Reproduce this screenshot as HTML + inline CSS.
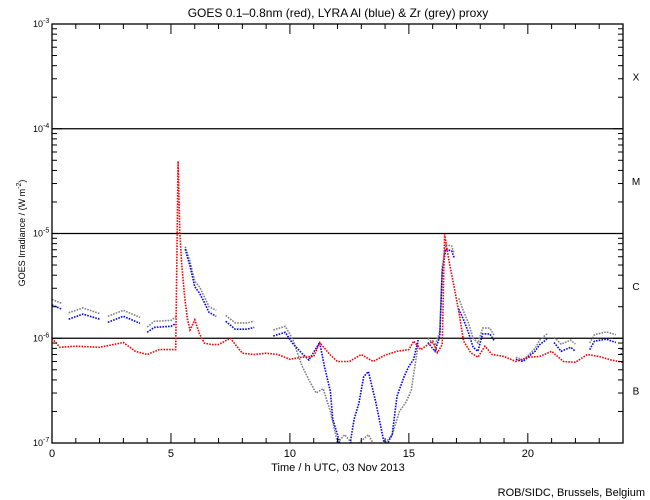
<!DOCTYPE html>
<html><head><meta charset="utf-8"><style>
html,body{margin:0;padding:0;background:#fff;}
svg{display:block;font-family:"Liberation Sans",sans-serif;}
</style></head><body>
<svg id="chart" width="650" height="500" viewBox="0 0 650 500">
<defs><clipPath id="pc"><rect x="52" y="24" width="571" height="419"/></clipPath></defs>
<text x="338" y="17" font-size="12" text-anchor="middle">GOES 0.1–0.8nm (red), LYRA Al (blue) &amp; Zr (grey) proxy</text>
<text x="338" y="471" font-size="11" text-anchor="middle">Time / h UTC, 03 Nov 2013</text>
<text x="645" y="496" font-size="11" text-anchor="end">ROB/SIDC, Brussels, Belgium</text>
<text transform="translate(25,233) rotate(-90)" font-size="9" text-anchor="middle">GOES Irradiance / (W m<tspan dy="-4" font-size="7">-2</tspan><tspan dy="4">)</tspan></text>
<g id="grid"></g>
<g id="series" clip-path="url(#pc)"></g>
<g id="axes"></g>
</svg>
<script>
// time in hours; values in units of 1e-6 W/m^2; null = gap
const redT = [0,0.33,1,2,3,3.5,4,4.5,5.2,5.3,5.37,5.45,5.58,5.7,5.8,6.0,6.2,6.4,6.7,7,7.5,8,8.5,9,9.5,10,10.5,11,11.25,11.7,12,12.5,13,13.5,14,14.5,15,15.2,15.5,16,16.2,16.4,16.5,16.7,16.9,17.1,17.3,17.6,17.9,18.2,18.5,19,19.5,20,20.5,21,21.5,22,22.5,23,23.5,24];
const redV = [1.0,0.82,0.84,0.82,0.91,0.75,0.70,0.78,0.78,49,10.3,5.1,2.4,1.5,1.2,1.5,1.1,0.9,0.87,0.87,1.0,0.72,0.70,0.72,0.70,0.63,0.66,0.67,0.91,0.69,0.60,0.60,0.70,0.60,0.69,0.75,0.78,0.94,0.78,0.94,0.73,0.87,9.8,5.3,3.1,1.8,0.94,0.73,0.66,0.84,0.70,0.67,0.60,0.66,0.67,0.75,0.60,0.59,0.70,0.67,0.62,0.59];
const blueT = [0,0.4,0.5,0.7,1.3,2.0,2.2,2.35,3.0,3.7,3.85,4.0,4.3,5.0,5.2,5.4,5.6,5.8,6.0,6.2,6.4,6.6,6.9,7.1,7.3,7.7,8.2,8.5,8.9,9.3,9.8,10.1,10.5,10.8,11.25,11.45,11.7,11.8,12.0,12.2,12.5,12.7,12.9,13.1,13.3,13.6,14.0,14.3,14.5,14.8,15.0,15.2,15.4,15.6,15.8,16.1,16.3,16.4,16.55,16.8,16.9,17.0,17.1,17.3,17.5,17.7,17.9,18.1,18.4,18.6,19.0,19.5,19.8,20.0,20.3,20.5,20.8,20.95,21.1,21.4,21.8,22.0,22.3,22.6,22.8,23.3,23.7,23.8,23.9,24];
const blueV = [2.08,1.9,null,1.52,1.7,1.52,null,1.42,1.62,1.39,null,1.14,1.27,1.3,1.38,null,7.1,4.9,3.1,2.7,2.2,1.77,1.62,null,1.45,1.22,1.22,1.27,null,1.05,1.14,0.9,0.72,0.62,0.91,0.54,0.31,0.17,0.12,0.08,0.09,0.17,0.24,0.43,0.48,0.25,0.09,0.12,0.28,0.43,0.54,0.63,0.98,null,0.91,0.75,1.05,4.3,7.1,6.8,5.9,null,1.9,1.5,1.14,0.82,0.75,1.1,1.1,0.94,null,0.63,0.6,0.66,0.75,0.87,0.98,null,0.91,0.75,0.82,0.75,null,0.78,0.94,0.98,0.91,null,0.70,0.72];
const greyT = [0,0.4,0.5,0.7,1.3,2.0,2.2,2.35,3.0,3.7,3.85,4.0,4.3,5.0,5.2,5.4,5.6,5.8,6.0,6.2,6.4,6.6,6.9,7.1,7.3,7.7,8.2,8.5,8.9,9.3,9.8,10.1,10.5,10.8,11.1,11.4,11.7,12.0,12.3,12.6,12.9,13.3,13.6,14.0,14.3,14.6,14.9,15.1,15.4,15.6,15.8,16.1,16.3,16.4,16.55,16.8,16.9,17.0,17.1,17.3,17.5,17.7,17.9,18.1,18.4,18.6,19.0,19.5,19.8,20.0,20.3,20.5,20.8,20.95,21.1,21.4,21.8,22.0,22.3,22.6,22.8,23.3,23.7,23.8,23.9,24];
const greyV = [2.35,2.15,null,1.75,1.95,1.72,null,1.62,1.85,1.58,null,1.28,1.45,1.48,1.6,null,7.5,5.4,3.5,3.1,2.5,2.0,1.85,null,1.65,1.4,1.4,1.45,null,1.2,1.3,1.0,0.55,0.4,0.3,0.33,0.2,0.1,0.12,0.1,0.1,0.12,0.09,0.1,0.12,0.2,0.25,0.32,0.9,null,1.0,0.85,1.15,4.8,7.8,7.6,6.5,null,2.4,1.8,1.4,1.0,0.9,1.25,1.25,1.05,null,0.66,0.62,0.68,0.8,0.96,1.1,null,1.02,0.88,0.96,0.88,null,0.9,1.08,1.15,1.08,null,0.78,0.8];
const xTicks = [0,5,10,15,20];
const yExp = [-7,-6,-5,-4,-3];
const classLabels = ["B","C","M","X"];

const X0=52,X1=623,Y0=24,Y1=443;
const NS="http://www.w3.org/2000/svg";
function xs(t){return X0+(t/24)*(X1-X0);}
function ys(v){
  const l=Math.log10(v)-6;
  return Y1-(l+7)/4*(Y1-Y0);
}
function mk(tag,attrs,parent){const e=document.createElementNS(NS,tag);for(const k in attrs)e.setAttribute(k,attrs[k]);parent.appendChild(e);return e;}
const grid=document.getElementById('grid'),ser=document.getElementById('series'),ax=document.getElementById('axes');

[-6,-5,-4].forEach(e=>{
  const y=ys(Math.pow(10,e+6));
  const l=mk('line',{x1:X0,x2:X1,y1:y,y2:y,stroke:'#000','stroke-width':1.3},grid);
  
  
});

function drawSeries(T,V,color,name){
  let seg=[];
  const flush=()=>{ if(seg.length>1){
      const p=mk('polyline',{points:seg.join(' '),fill:'none',stroke:color,'stroke-width':1.6,'stroke-dasharray':'1.6 1.2'},ser);
      
      
    } seg=[]; };
  for(let i=0;i<T.length;i++){
    if(V[i]===null){flush();continue;}
    seg.push(xs(T[i]).toFixed(1)+','+ys(V[i]).toFixed(1));
  }
  flush();
}
drawSeries(greyT,greyV,'#808080','zr-grey');
drawSeries(blueT,blueV,'#0000ff','lyra-al-blue');
drawSeries(redT,redV,'#ff0000','goes-red');

const fr=mk('rect',{x:X0,y:Y0,width:X1-X0,height:Y1-Y0,fill:'none',stroke:'#000','stroke-width':1.3},ax);



for(let h=0;h<=24;h++){
  const x=xs(h),major=(h%5===0);
  const len=major?10:5;
  mk('line',{x1:x,x2:x,y1:Y1,y2:Y1-len,stroke:'#000','stroke-width':1},ax);
  mk('line',{x1:x,x2:x,y1:Y0,y2:Y0+len,stroke:'#000','stroke-width':1},ax);
}
xTicks.forEach(h=>{
  const t=mk('text',{x:xs(h),y:457,'font-size':11,'text-anchor':'middle'},ax);
  t.textContent=h;
  
  
});
for(let e=-7;e<-3;e++){
  for(let k=1;k<10;k++){
    const y=ys(k*Math.pow(10,e+6));
    const len=k===1?10:5;
    mk('line',{x1:X0,x2:X0+len,y1:y,y2:y,stroke:'#000','stroke-width':1},ax);
    mk('line',{x1:X1,x2:X1-len,y1:y,y2:y,stroke:'#000','stroke-width':1},ax);
  }
}
yExp.forEach(e=>{
  const y=ys(Math.pow(10,e+6));
  const t=mk('text',{x:33,y:y+3,'font-size':9,'text-anchor':'start'},ax);
  t.innerHTML='10<tspan dy="-4" font-size="7">'+e+'</tspan>';
  
  
});
classLabels.forEach((c,i)=>{
  const y=(ys(Math.pow(10,i-1))+ys(Math.pow(10,i)))/2;
  const t=mk('text',{x:636,y:y+4,'font-size':10,'text-anchor':'middle'},ax);
  t.textContent=c;
  
  
});
</script>
</body></html>
